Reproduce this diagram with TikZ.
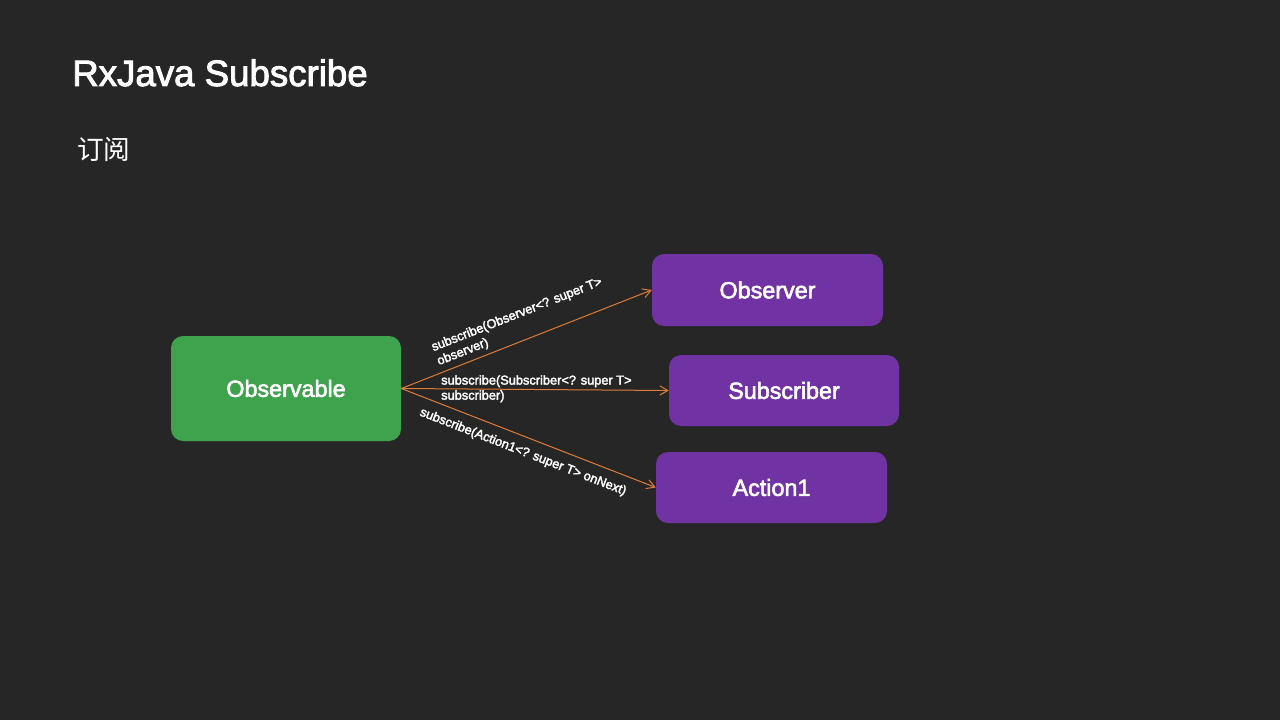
\documentclass[tikz,border=0pt]{standalone}
\usepackage{fontspec}
\setmainfont{Liberation Sans}
\newfontfamily\medfont[FakeBold=2.5]{Liberation Sans}
\newfontfamily\cjk{Noto Sans CJK SC}
\usetikzlibrary{arrows.meta}
\definecolor{bg}{HTML}{262626}
\definecolor{grn}{HTML}{3FA34D}
\definecolor{prp}{HTML}{7133A3}
\definecolor{arr}{HTML}{E07B39}
\begin{document}
\begin{tikzpicture}[x=0.75pt,y=-0.75pt,
  box/.style={rounded corners=9pt, text=white, font=\medfont\fontsize{17.5}{20}\selectfont, inner sep=0pt},
  conn/.style={draw=arr, line width=0.75pt, -{Straight Barb[length=6pt,width=7pt]}},
  lbl/.style={text=white, font=\medfont\fontsize{9.6}{11.3}\selectfont, align=left, inner sep=1.5pt}]
\fill[bg] (0,0) rectangle (1280,720);
\useasboundingbox (0,0) rectangle (1280,720);
\node[anchor=base west, text=white, inner sep=0pt, font=\medfont\fontsize{27.5}{32}\selectfont] (title) at (72,86) {RxJava Subscribe};
\node[anchor=base west, text=white, inner sep=0pt, font=\cjk\fontsize{20}{24}\selectfont] (sub) at (77,160) {订阅};
\node[box, fill=grn, minimum width=172.5pt, minimum height=78.75pt] (obs) at (286,388.5) {Observable};
\node[box, fill=prp, minimum width=173.25pt, minimum height=54pt] (observer) at (767.5,290) {Observer};
\node[box, fill=prp, minimum width=172.5pt, minimum height=53.25pt] (subscriber) at (784,390.5) {Subscriber};
\node[box, fill=prp, minimum width=173.25pt, minimum height=53.25pt] (action) at (771.5,487.5) {Action1};
\draw[conn] (obs.east) -- node[lbl, sloped, above=2pt, pos=0.5] {subscribe(Observer<? super T>\\observer)} (observer.west);
\draw[conn] (obs.east) -- node[lbl, anchor=west, pos=0.14] {subscribe(Subscriber<? super T>\\subscriber)} (subscriber.west);
\draw[conn] (obs.east) -- node[lbl, sloped, below=5pt, pos=0.5] {subscribe(Action1<? super T> onNext)} (action.west);
\end{tikzpicture}
\end{document}
